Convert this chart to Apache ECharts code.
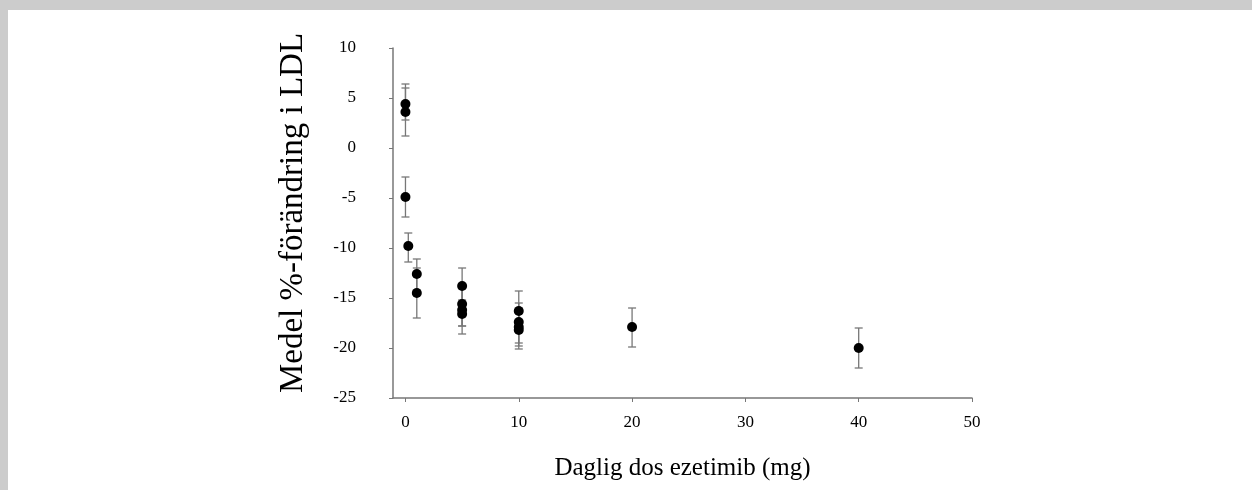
<!DOCTYPE html>
<html>
<head>
<meta charset="utf-8">
<script src="https://cdn.jsdelivr.net/npm/echarts@6/dist/echarts.min.js"></script>
<style>
  html, body { margin: 0; padding: 0; background: #cccccc; }
  #chart { position: absolute; left: 8px; top: 10px; width: 1244px; height: 480px; background: #ffffff; }
</style>
</head>
<body>
<div id="chart"></div>
<script>
// dose (mg), mean % change, error bar low/high
const doses = [0, 0, 0, 0.25, 1, 1, 5, 5, 5, 5, 10, 10, 10, 10, 20, 40];
const means = [4.4, 3.6, -4.9, -9.8, -12.6, -14.5, -13.8, -15.6, -16.2, -16.6, -16.3, -17.4, -17.9, -18.2, -17.9, -20.0];
const lows = [2.8, 1.2, -6.9, -11.4, -14.2, -17.0, -15.6, -17.8, -18.6, -17.8, -18.2, -19.5, -20.1, -19.8, -19.9, -22.0];
const highs = [6.4, 6.0, -2.9, -8.5, -11.1, -12.0, -12.0, -13.6, -14.0, -15.2, -14.3, -15.5, -16.0, -16.5, -16.0, -18.0];
const xTicks = [0, 10, 20, 30, 40, 50];

const font = "'Liberation Serif', 'Times New Roman', serif";
const axisColor = "#777";

const chart = echarts.init(document.getElementById("chart"), null, { renderer: "canvas" });

const points = doses.map((d, i) => [d, means[i]]);
const bars = doses.map((d, i) => [d, lows[i], highs[i]]);

chart.setOption({
  animation: false,
  grid: { left: 385, right: 280, top: 38, bottom: 92 },
  xAxis: {
    type: "value",
    min: -1.1,
    max: 50,
    name: "Daglig dos ezetimib (mg)",
    nameLocation: "middle",
    nameGap: 58,
    nameTextStyle: { fontFamily: font, fontSize: 25, color: "#000" },
    axisLine: { onZero: false, lineStyle: { color: axisColor, width: 1.5 } },
    axisTick: { show: true, customValues: xTicks, length: 4, lineStyle: { color: axisColor } },
    axisLabel: { customValues: xTicks, fontFamily: font, fontSize: 17, color: "#000", margin: 16 },
    splitLine: { show: false },
  },
  yAxis: {
    type: "value",
    min: -25,
    max: 10,
    interval: 5,
    name: "Medel %-förändring i LDL",
    nameLocation: "middle",
    nameGap: 83,
    nameTextStyle: { fontFamily: font, fontSize: 33, color: "#000", padding: [0, 0, 0, 20] },
    axisLine: { show: true, onZero: false, lineStyle: { color: axisColor, width: 1.5 } },
    axisTick: { show: true, length: 4, lineStyle: { color: axisColor } },
    axisLabel: { fontFamily: font, fontSize: 17, color: "#000", margin: 37 },
    splitLine: { show: false },
  },
  series: [
    {
      type: "custom",
      data: bars,
      z: 1,
      renderItem: (params, api) => {
        const x = api.value(0);
        const lo = api.coord([x, api.value(1)]);
        const hi = api.coord([x, api.value(2)]);
        const w = 4;
        const style = { stroke: "#777", lineWidth: 1.3 };
        return {
          type: "group",
          children: [
            { type: "line", shape: { x1: lo[0], y1: lo[1], x2: hi[0], y2: hi[1] }, style },
            { type: "line", shape: { x1: lo[0] - w, y1: lo[1], x2: lo[0] + w, y2: lo[1] }, style },
            { type: "line", shape: { x1: hi[0] - w, y1: hi[1], x2: hi[0] + w, y2: hi[1] }, style },
          ],
        };
      },
    },
    {
      type: "scatter",
      data: points,
      z: 2,
      symbol: "circle",
      symbolSize: 10,
      itemStyle: { color: "#000", opacity: 1 },
    },
  ],
});
</script>
</body>
</html>
